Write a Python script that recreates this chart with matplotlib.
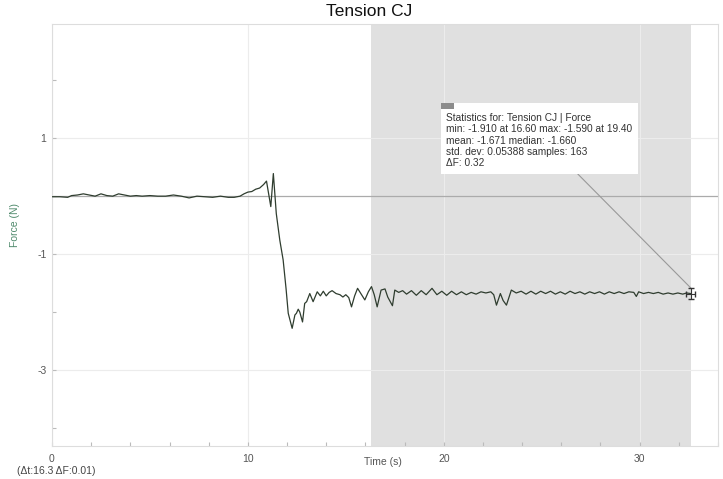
import matplotlib
matplotlib.use("Agg")
import matplotlib.pyplot as plt
from matplotlib.ticker import MultipleLocator, FixedLocator
from matplotlib.patches import Rectangle

plt.rcParams['font.family'] = ['Liberation Sans', 'DejaVu Sans']
plt.rcParams['axes.unicode_minus'] = False

# Force sensor trace (time in s, force in N)
time_s = [
    0, 0.4, 0.8, 1.0, 1.3, 1.6, 1.9, 2.2, 2.5, 2.8, 3.1, 3.4, 3.7, 4.0, 4.3,
    4.6, 5.0, 5.4, 5.8, 6.2, 6.6, 7.0, 7.4, 7.8, 8.2, 8.6, 9.0, 9.3, 9.6,
    9.8, 10.0, 10.2, 10.4, 10.6, 10.8, 10.95, 11.17, 11.3, 11.45, 11.63, 11.8,
    11.95, 12.06, 12.26, 12.4, 12.48, 12.57, 12.65, 12.79, 12.9, 13.0, 13.16,
    13.33, 13.54, 13.7, 13.85, 14.0, 14.15, 14.3, 14.5, 14.7, 14.85, 15.0,
    15.15, 15.29, 15.45, 15.6, 15.8, 15.97, 16.15, 16.31, 16.45, 16.6, 16.8,
    17.0, 17.14, 17.38, 17.5, 17.7, 17.9, 18.1, 18.35, 18.6, 18.85, 19.1, 19.4,
    19.65, 19.9, 20.15, 20.4, 20.65, 20.9, 21.15, 21.4, 21.65, 21.9, 22.15,
    22.4, 22.55, 22.69, 22.89, 23.03, 23.2, 23.45, 23.7, 23.95, 24.2, 24.45,
    24.7, 24.95, 25.2, 25.45, 25.7, 25.95, 26.2, 26.45, 26.7, 26.95, 27.2,
    27.45, 27.7, 27.95, 28.2, 28.45, 28.7, 28.95, 29.2, 29.45, 29.7, 29.83,
    29.95, 30.2, 30.45, 30.7, 30.95, 31.2, 31.45, 31.7, 31.95, 32.2, 32.4, 32.6,
]
force_n = [
    -0.01, -0.01, -0.02, 0.01, 0.02, 0.04, 0.02, 0.0, 0.04, 0.01, 0.0, 0.04,
    0.02, 0.0, 0.01, 0.0, 0.01, 0.0, 0.0, 0.02, 0.0, -0.03, 0.0, -0.01, -0.02,
    0.0, -0.02, -0.02, 0.0,
    0.04, 0.07, 0.08, 0.12, 0.14, 0.2, 0.26, -0.18, 0.39, -0.3, -0.76, -1.1,
    -1.6, -2.02, -2.28, -2.05, -2.02, -1.95, -2.0, -2.17, -1.85, -1.82, -1.68,
    -1.82, -1.65, -1.72, -1.64, -1.72, -1.66, -1.63, -1.68, -1.70, -1.74, -1.70,
    -1.75, -1.91, -1.72, -1.59, -1.70, -1.79, -1.65, -1.56, -1.70, -1.91, -1.62,
    -1.60, -1.74, -1.89, -1.62, -1.66, -1.63, -1.69, -1.63, -1.71, -1.63, -1.70,
    -1.59, -1.70, -1.64, -1.71, -1.64, -1.70, -1.65, -1.70, -1.66, -1.69,
    -1.65, -1.67, -1.65, -1.70, -1.88, -1.68, -1.80, -1.88, -1.62, -1.67,
    -1.64, -1.69, -1.64, -1.69, -1.64, -1.68, -1.64, -1.69, -1.65, -1.69,
    -1.64, -1.68, -1.65, -1.69, -1.65, -1.68, -1.65, -1.69, -1.65, -1.68,
    -1.65, -1.68, -1.65, -1.66, -1.73, -1.65, -1.68, -1.66, -1.68, -1.66,
    -1.69, -1.67, -1.69, -1.67, -1.69, -1.67, -1.68,
]

# Selected region for statistics
sel_start, sel_end = 16.3, 32.6
stats_lines = [
    "Statistics for: Tension CJ | Force",
    "min: -1.910 at 16.60 max: -1.590 at 19.40",
    "mean: -1.671 median: -1.660",
    "std. dev: 0.05388 samples: 163",
    "\u0394F: 0.32",
]

W, H = 723, 479
fig = plt.figure(figsize=(W / 100, H / 100), dpi=100)
ax = fig.add_axes([52 / W, 33 / H, 666 / W, 422 / H])

ax.set_xlim(0, 34)
ax.set_ylim(-4.31, 2.97)

ax.axvspan(sel_start, sel_end, color='#e0e0e0', zorder=0.2, lw=0)

ax.set_axisbelow(True)
ax.xaxis.set_major_locator(FixedLocator([0, 10, 20, 30]))
ax.xaxis.set_minor_locator(MultipleLocator(2))
ax.yaxis.set_major_locator(FixedLocator([1, -1, -3]))
ax.yaxis.set_minor_locator(FixedLocator([2, 0, -2, -4]))
ax.grid(True, which='major', color='#ececec', lw=0.8)
ax.tick_params(which='both', direction='in', colors='#bbbbbb',
               labelcolor='#555555', labelsize=7.5, length=3, width=0.8)
ax.tick_params(axis='x', pad=6)
ax.tick_params(axis='y', pad=4)
for s in ax.spines.values():
    s.set_color('#dddddd')
    s.set_linewidth(0.8)

ax.axhline(0, color='#ababab', lw=0.9, zorder=0.6)

ax.plot(time_s, force_n, color='#2f3d2f', lw=0.9, zorder=3)

# end-point marker
ax.errorbar([time_s[-1]], [force_n[-1]], yerr=0.09, xerr=0.25,
            fmt='none', ecolor='#333333', elinewidth=0.8, capsize=2, zorder=4)

# statistics box with connector
bx0, bx1, by0, by1 = 19.85, 29.9, 0.38, 1.60
ax.plot([26.85, time_s[-1]], [by0, force_n[-1] + 0.1], color='#999999',
        lw=0.8, zorder=3)
ax.add_patch(Rectangle((bx0, by0), bx1 - bx0, by1 - by0, facecolor='white',
                       edgecolor='none', zorder=5))
ax.add_patch(Rectangle((bx0, by1 - 0.09), 0.65, 0.09, facecolor='#8c8c8c',
                       edgecolor='none', zorder=6))
for i, line in enumerate(stats_lines):
    ax.text(bx0 + 0.25, 1.345 - i * 0.195, line, fontsize=7.3, color='#333333',
            va='center', ha='left', zorder=6)

ax.set_xlabel("Time (s)", fontsize=7.5, color='#555555')
ax.xaxis.set_label_coords(0.497, -0.026)
ax.set_ylabel("Force (N)", fontsize=7.5, color='#4f8a6c')
ax.yaxis.set_label_coords(-0.048, 0.524)

fig.text(369 / W, 1 - 12 / H, "Tension CJ", fontsize=12.5, ha='center',
         va='center', color='#111111')
fig.text(17 / W, 1 - 471 / H, "(\u0394t:16.3 \u0394F:0.01)", fontsize=7.5,
         ha='left', va='center', color='#444444')

fig.savefig("out.png", dpi=100)
